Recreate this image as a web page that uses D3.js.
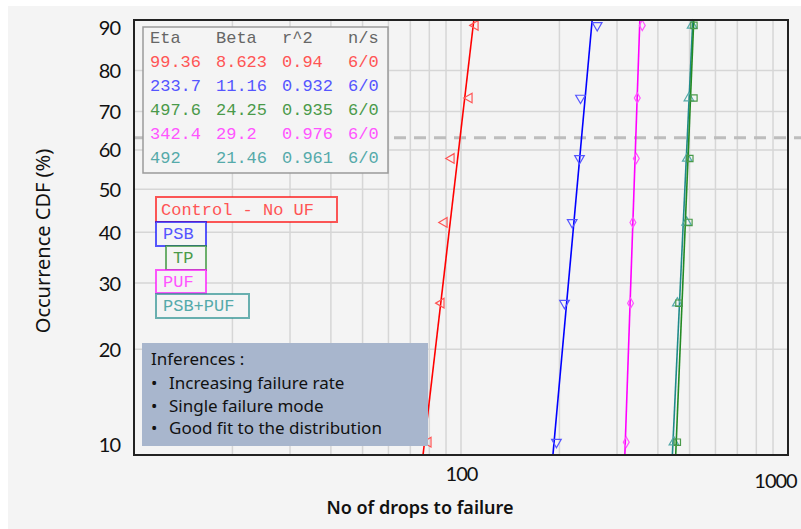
<!DOCTYPE html>
<html>
<head>
<meta charset="utf-8">
<script src="https://cdn.jsdelivr.net/npm/d3@7"></script>
<style>
  body { margin: 0; background: #fff; }
  svg { display: block; }
  .mono { font-family: "Courier New", "Liberation Mono", monospace; }
  .hand { font-family: "Comic Sans MS", "Noto Sans", sans-serif; }
</style>
</head>
<body>
<svg width="801" height="529"></svg>
<script>
// Weibull fits, one entry per test group
const seriesNames = ["Control - No UF", "PSB", "TP", "PUF", "PSB+PUF"];
const etaValues = [99.36, 233.7, 497.6, 342.4, 492];
const betaValues = [8.623, 11.16, 24.25, 29.2, 21.46];
const rSquared = ["0.94", "0.932", "0.935", "0.976", "0.961"];
const nsValues = ["6/0", "6/0", "6/0", "6/0", "6/0"];

// drops to failure (6 samples each)
const controlDrops = [79.4, 87.0, 88.9, 93.4, 106.0, 110.6];
const psbDrops = [195.8, 207.2, 218.8, 230.3, 232.0, 260.9];
const tpDrops = [458.7, 464.0, 497.8, 501.0, 515.7, 515.7];
const pufDrops = [320.2, 330.0, 335.5, 343.6, 346.0, 358.4];
const psbPufDrops = [447.8, 458.7, 489.8, 492.0, 497.8, 509.0];
const rankPct = [10.9, 26.6, 42.2, 57.8, 73.4, 89.1];

const yTicks = [10, 20, 30, 40, 50, 60, 70, 80, 90];
const xTickLabels = [100, 1000];
const inferences = ["Increasing failure rate", "Single failure mode", "Good fit to the distribution"];

const lineColors = ["#ff0000", "#0000ff", "#238a23", "#ff00ff", "#1f8a8a"];
const textColors = ["#f55", "#55f", "#4a9a4a", "#f5f", "#5aa"];
const markerTypes = [d3.symbolTriangle, d3.symbolTriangle, d3.symbolSquare, d3.symbolDiamond, d3.symbolTriangle];
const markerRot = [-90, 180, 0, 0, 0];
const drops = [controlDrops, psbDrops, tpDrops, pufDrops, psbPufDrops];

const svg = d3.select("svg");
svg.append("rect").attr("x", 8).attr("y", 6).attr("width", 801).attr("height", 529).attr("fill", "#f4f4f4");

const plotLeft = 134, plotRight = 788, plotTop = 20, plotBottom = 455;
const x = d3.scaleLog().domain([10, 1000]).range([plotLeft, plotRight]);
const weib = p => Math.log(-Math.log(1 - p / 100));
const y = d3.scaleLinear().domain([weib(10), weib(90)]).range([plotBottom, plotTop]);

// grid
svg.append("g").selectAll("line")
    .data(x.ticks())
    .join("line")
    .attr("x1", d => x(d)).attr("x2", d => x(d))
    .attr("y1", plotTop).attr("y2", plotBottom)
    .attr("stroke", "#d6d6d6").attr("stroke-width", 1.5);

svg.append("g").selectAll("line")
    .data(yTicks.slice(1, -1))
    .join("line")
    .attr("x1", plotLeft).attr("x2", plotRight)
    .attr("y1", d => y(weib(d))).attr("y2", d => y(weib(d)))
    .attr("stroke", "#d6d6d6").attr("stroke-width", 1.5);

// characteristic life line (63.2%)
svg.append("line")
    .attr("x1", plotLeft).attr("x2", 801)
    .attr("y1", y(weib(63.2))).attr("y2", y(weib(63.2)))
    .attr("stroke", "#bdbdbd").attr("stroke-width", 3)
    .attr("stroke-dasharray", "12 8");

// fitted lines and points
const drawOrder = [0, 1, 3, 4, 2];
const line = d3.line().x(d => x(d[0])).y(d => y(weib(d[1])));
drawOrder.forEach(i => {
    const fit = [10, 90].map(p => [etaValues[i] * Math.pow(-Math.log(1 - p / 100), 1 / betaValues[i]), p]);
    svg.append("path")
        .datum(fit)
        .attr("d", line)
        .attr("fill", "none")
        .attr("stroke", lineColors[i])
        .attr("stroke-width", 1.6);

    svg.append("g").selectAll("path")
        .data(drops[i])
        .join("path")
        .attr("d", d3.symbol().type(markerTypes[i]).size(markerTypes[i] === d3.symbolDiamond ? 30 : 40))
        .attr("transform", (d, j) => `translate(${x(d)},${y(weib(rankPct[j]))}) rotate(${markerRot[i]})`)
        .attr("fill", "none")
        .attr("stroke", textColors[i])
        .attr("stroke-width", 1.2);
});

// parameter table
const table = svg.append("g").attr("class", "mono").style("font-size", "17px");
table.append("rect")
    .attr("x", 143).attr("y", 27).attr("width", 245).attr("height", 146)
    .attr("fill", "#f4f4f4").attr("stroke", "#9a9a9a").attr("stroke-width", 1.5);
const colX = [150, 216, 282, 348];
["Eta", "Beta", "r^2", "n/s"].forEach((h, c) => {
    table.append("text").attr("x", colX[c]).attr("y", 43).attr("fill", "#666").text(h);
});
seriesNames.forEach((s, i) => {
    const row = [etaValues[i], betaValues[i], rSquared[i], nsValues[i]];
    row.forEach((v, c) => {
        table.append("text")
            .attr("x", colX[c]).attr("y", 67 + i * 24)
            .attr("fill", textColors[i])
            .text(v);
    });
});

// legend boxes
const legendBoxes = [
    {x: 156, y: 197, w: 181, h: 25, tx: 161},
    {x: 156, y: 222, w: 50, h: 24, tx: 163},
    {x: 166, y: 246, w: 40, h: 24, tx: 173},
    {x: 156, y: 270, w: 50, h: 23, tx: 163},
    {x: 156, y: 294, w: 93, h: 24, tx: 163}
];
const legend = svg.append("g").attr("class", "mono").style("font-size", "17px");
legendBoxes.forEach((b, i) => {
    legend.append("rect")
        .attr("x", b.x).attr("y", b.y).attr("width", b.w).attr("height", b.h)
        .attr("fill", "#f4f4f4").attr("stroke", lineColors[i]).attr("stroke-opacity", 0.65)
        .attr("stroke-width", 2);
    legend.append("text")
        .attr("x", b.tx).attr("y", b.y + b.h / 2 + 5)
        .attr("fill", textColors[i])
        .text(seriesNames[i]);
});

// inferences box
const inf = svg.append("g").attr("class", "hand").style("font-size", "17px").attr("fill", "#111");
inf.append("rect")
    .attr("x", 142).attr("y", 343).attr("width", 286).attr("height", 103)
    .attr("fill", "#a8b6cd");
inf.append("text").attr("x", 151).attr("y", 365).text("Inferences :");
inferences.forEach((t, i) => {
    inf.append("text").attr("x", 151).attr("y", 389 + i * 22.5).text("•");
    inf.append("text").attr("x", 169).attr("y", 389 + i * 22.5).text(t);
});

// frame
svg.append("rect")
    .attr("x", plotLeft).attr("y", plotTop).attr("width", plotRight - plotLeft).attr("height", plotBottom - plotTop)
    .attr("fill", "none").attr("stroke", "#222").attr("stroke-width", 2);

// axes
const yAxis = svg.append("g")
    .attr("transform", `translate(${plotLeft},0)`)
    .call(d3.axisLeft(y).tickValues(yTicks.map(weib)).tickFormat((d, i) => yTicks[i]).tickSize(0).tickPadding(14));
yAxis.select(".domain").remove();
yAxis.selectAll("text")
    .style("font-family", "Lato, 'Noto Sans', sans-serif")
    .style("font-size", "20px").style("letter-spacing", "-1px")
    .attr("fill", "#111")
    .attr("dy", (d, i) => i === 0 ? "-0.2em" : i === yTicks.length - 1 ? "0.7em" : "0.35em");

const xAxis = svg.append("g")
    .attr("transform", `translate(0,${plotBottom})`)
    .call(d3.axisBottom(x).tickValues(xTickLabels).tickFormat(d3.format("d")).tickSize(0));
xAxis.select(".domain").remove();
xAxis.selectAll("text")
    .style("font-family", "Lato, 'Noto Sans', sans-serif")
    .style("font-size", "20px").style("letter-spacing", "-1px")
    .attr("fill", "#111")
    .attr("dy", null)
    .attr("y", d => d === 1000 ? 33 : 26)
    .attr("dx", d => d === 1000 ? -13 : 0);

svg.append("text")
    .attr("class", "hand")
    .attr("transform", "translate(50,241) rotate(-90)")
    .style("text-anchor", "middle")
    .style("font-size", "20px")
    .attr("fill", "#111")
    .text("Occurrence CDF (%)");

svg.append("text")
    .attr("class", "hand")
    .attr("x", 420).attr("y", 514)
    .style("text-anchor", "middle")
    .style("font-size", "18px")
    .style("font-weight", "600")
    .attr("fill", "#111")
    .text("No of drops to failure");
</script>
</body>
</html>
